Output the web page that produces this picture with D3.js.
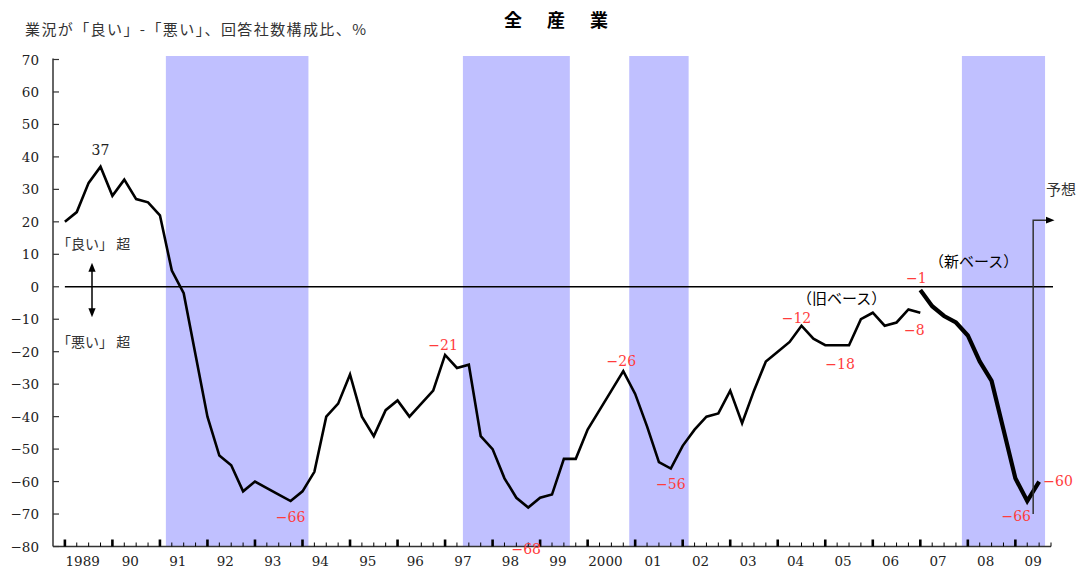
<!DOCTYPE html>
<html>
<head>
<meta charset="utf-8">
<script src="https://cdn.jsdelivr.net/npm/d3@7"></script>
<style>
body { margin: 0; background: #fff; }
text { font-family: "DejaVu Serif", serif; }
.jp { font-family: "Noto Sans CJK JP", sans-serif; }
</style>
</head>
<body>
<svg id="chart" width="1083" height="569"></svg>
<script>
// quarterly surveys, index 0 = first survey of 1989
var years = ["1989","90","91","92","93","94","95","96","97","98","99",
             "2000","01","02","03","04","05","06","07","08","09"];

// old base, index 0 .. 72
var oldBase = [20, 23, 32, 37, 28, 33, 27, 26, 22, 5,
               -2, -21, -40, -52, -55, -63, -60, -62, -64, -66,
               -63, -57, -40, -36, -27, -40, -46, -38, -35, -40,
               -36, -32, -21, -25, -24, -46, -50, -59, -65, -68,
               -65, -64, -53, -53, -44, -38, -32, -26, -33, -43,
               -54, -56, -49, -44, -40, -39, -32, -42, -32, -23,
               -20, -17, -12, -16, -18, -18, -18, -10, -8, -12,
               -11, -7, -8];

// new base, starts at index 72, last point is the forecast
var newStart = 72;
var newBase = [-1, -6, -9, -11, -15, -23, -29, -44, -59, -66, -60];

// recession periods (quarter index)
var recessions = [[8.5, 20.5], [33.5, 42.5], [47.5, 52.5], [75.5, 82.5]];

var yTicks = [-80, -70, -60, -50, -40, -30, -20, -10, 0, 10, 20, 30, 40, 50, 60, 70];

// labelled points: index, series
var oldLabels = [19, 32, 39, 47, 51, 62, 65, 72];
var newLabels = [72, 81, 82];

var svg = d3.select("#chart");

var x = d3.scaleLinear().domain([-1, 83]).range([53, 1051]);
var y = d3.scaleLinear().domain([-80, 70]).range([546.5, 59.5]);

var fmt = d3.format("d");

// shading
svg.selectAll("rect.rec")
    .data(recessions)
  .enter().append("rect")
    .attr("class", "rec")
    .attr("x", function(d) { return x(d[0]); })
    .attr("width", function(d) { return x(d[1]) - x(d[0]); })
    .attr("y", 56)
    .attr("height", y(-80) - 56)
    .style("fill", "#c0c0ff");

// zero line
svg.append("line")
    .attr("x1", x(0)).attr("x2", x(83) + 2)
    .attr("y1", y(0)).attr("y2", y(0))
    .style("stroke", "#000").style("stroke-width", 1.4);

// y axis
svg.append("line")
    .attr("x1", x(-1)).attr("x2", x(-1))
    .attr("y1", y(70) - 1).attr("y2", y(-80))
    .style("stroke", "#333").style("stroke-width", 1.5);

svg.selectAll("line.ytick")
    .data(yTicks)
  .enter().append("line")
    .attr("class", "ytick")
    .attr("x1", x(-1)).attr("x2", x(-1) + 6)
    .attr("y1", function(d) { return y(d); })
    .attr("y2", function(d) { return y(d); })
    .style("stroke", "#333").style("stroke-width", 1.2);

svg.selectAll("text.ylab")
    .data(yTicks)
  .enter().append("text")
    .attr("class", "ylab")
    .attr("x", 39)
    .attr("y", function(d) { return y(d) + 5; })
    .attr("text-anchor", "end")
    .style("font-size", "13.5px")
    .style("fill", "#222")
    .text(function(d) { return fmt(d); });

// x axis
svg.append("line")
    .attr("x1", x(-1)).attr("x2", x(83))
    .attr("y1", y(-80)).attr("y2", y(-80))
    .style("stroke", "#333").style("stroke-width", 1.5);

svg.selectAll("line.xtick")
    .data(d3.range(0, 84))
  .enter().append("line")
    .attr("class", "xtick")
    .attr("x1", function(d) { return x(d); })
    .attr("x2", function(d) { return x(d); })
    .attr("y1", y(-80))
    .attr("y2", function(d) { return y(-80) - (d % 4 === 0 ? 7 : 4); })
    .style("stroke", "#000")
    .style("stroke-width", function(d) { return d % 4 === 0 ? 2.6 : 1; });

svg.selectAll("text.xlab")
    .data(years)
  .enter().append("text")
    .attr("class", "xlab")
    .attr("x", function(d, i) { return x(i * 4 + 1.5); })
    .attr("y", 566)
    .attr("text-anchor", "middle")
    .style("font-size", "13.5px")
    .style("fill", "#222")
    .text(function(d) { return d; });

// lines
var line = d3.line()
    .x(function(d) { return x(d.i); })
    .y(function(d) { return y(d.v); });

var oldPts = oldBase.map(function(v, i) { return {i: i, v: v}; });
var newPts = newBase.map(function(v, i) { return {i: i + newStart, v: v}; });

svg.append("path")
    .datum(oldPts)
    .attr("d", line)
    .style("fill", "none").style("stroke", "#000").style("stroke-width", 2.6);

svg.append("path")
    .datum(newPts)
    .attr("d", line)
    .style("fill", "none").style("stroke", "#000").style("stroke-width", 4.2);

// value labels
var labelOffsets = {
  "o19": [0, 21], "o32": [-2, -5], "o39": [-2, 46], "o47": [-2, -5],
  "o51": [0, 20], "o62": [-5, -3], "o65": [3, 24], "o72": [-6, 22],
  "n72": [-4, -7], "n81": [-11, 20], "n82": [19, 4]
};

var labs = oldLabels.map(function(i) { return {k: "o" + i, i: i, v: oldBase[i]}; })
  .concat(newLabels.map(function(i) { return {k: "n" + i, i: i, v: newBase[i - newStart]}; }));

svg.selectAll("text.vlab")
    .data(labs)
  .enter().append("text")
    .attr("class", "vlab")
    .attr("x", function(d) { return x(d.i) + labelOffsets[d.k][0]; })
    .attr("y", function(d) { return y(d.v) + labelOffsets[d.k][1]; })
    .attr("text-anchor", "middle")
    .style("font-size", "14px")
    .style("fill", "#ff3c3c")
    .text(function(d) { return fmt(d.v); });

// peak of 1989
svg.append("text")
    .attr("x", x(3))
    .attr("y", y(oldBase[3]) - 12)
    .attr("text-anchor", "middle")
    .style("font-size", "14px")
    .style("fill", "#222")
    .text(fmt(oldBase[3]));

// arrow markers
var defs = svg.append("defs");
defs.append("marker")
    .attr("id", "ah").attr("viewBox", "0 0 10 10")
    .attr("refX", 5).attr("refY", 5)
    .attr("markerWidth", 6).attr("markerHeight", 6)
    .attr("orient", "auto-start-reverse")
  .append("path").attr("d", "M0,1 L10,5 L0,9 z").style("fill", "#000");

// good / bad arrow on the left
svg.append("line")
    .attr("x1", 92).attr("x2", 92)
    .attr("y1", y(6)).attr("y2", y(-8))
    .attr("marker-start", "url(#ah)").attr("marker-end", "url(#ah)")
    .style("stroke", "#000").style("stroke-width", 1.5);

svg.append("text").attr("class", "jp")
    .attr("x", 57).attr("y", 249)
    .style("font-size", "14px").style("fill", "#333")
    .text("「良い」 超");

svg.append("text").attr("class", "jp")
    .attr("x", 57).attr("y", 347)
    .style("font-size", "14px").style("fill", "#333")
    .text("「悪い」 超");

// forecast marker
svg.append("path")
    .attr("d", "M" + x(81.5) + "," + y(-70) + "V" + y(20.5) + "H" + (x(83) - 1))
    .attr("marker-end", "url(#ah)")
    .style("fill", "none").style("stroke", "#333").style("stroke-width", 1.5);

svg.append("text").attr("class", "jp")
    .attr("x", 1046).attr("y", 195)
    .style("font-size", "15px").style("fill", "#333")
    .text("予想");

svg.append("text").attr("class", "jp")
    .attr("x", 797).attr("y", 304)
    .style("font-size", "15px").style("fill", "#000")
    .text("（旧ベース）");

svg.append("text").attr("class", "jp")
    .attr("x", 929).attr("y", 267)
    .style("font-size", "15px").style("fill", "#000")
    .text("（新ベース）");

// titles
svg.append("text").attr("class", "jp")
    .attr("x", 504).attr("y", 27)
    .style("font-size", "18px").style("font-weight", "bold")
    .style("letter-spacing", "3.5px")
    .text("全　産　業");

svg.append("text").attr("class", "jp")
    .attr("x", 25).attr("y", 35)
    .attr("textLength", 341).attr("lengthAdjust", "spacing")
    .style("font-size", "15px").style("fill", "#333")
    .text("業況が「良い」-「悪い」、回答社数構成比、%");
</script>
</body>
</html>
